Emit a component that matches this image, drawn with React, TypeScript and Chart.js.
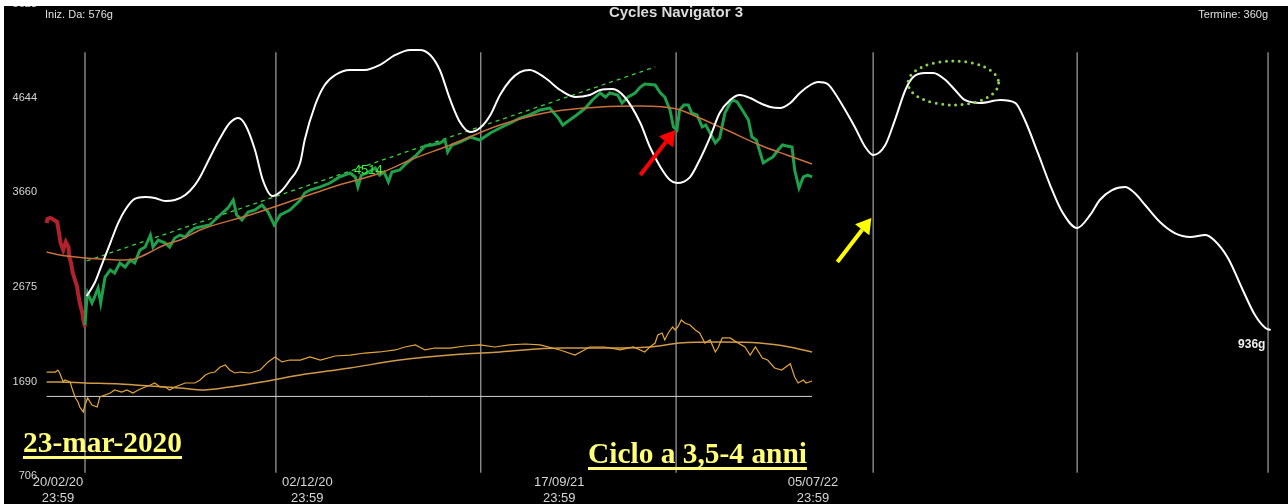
import React, { useEffect, useRef } from 'react';
import { Chart, registerables } from 'chart.js';

Chart.register(...registerables);

// ---- axis ticks ----
const yTickValues = [706, 1690, 2675, 3660, 4644, 5628];
const yTickLabels = ['706', '1690', '2675', '3660', '4644', '5628'];
const dateTickDays = [0, 286, 575, 866];
const dateTickLabels = [
  ['20/02/20', '23:59'],
  ['02/12/20', '23:59'],
  ['17/09/21', '23:59'],
  ['05/07/22', '23:59'],
];
// vertical cycle lines (days since 20/02/20)
const cycleLineDays = [31, 250, 485, 709, 935, 1169, 1388];
const cycleLineRange = [740, 5120];

// ---- projected cycle (white) ----
const cycleDays = [33, 42, 48, 60, 69, 77, 88, 100, 111, 123, 134, 146, 157, 163, 174, 186, 197, 207, 215, 226, 235, 246, 255, 266, 278, 283, 295, 306, 318, 335, 352, 369, 387, 404, 415, 427, 438, 450, 461, 473, 484, 496, 507, 519, 530, 541, 559, 576, 593, 610, 622, 636, 650, 668, 679, 691, 702, 710, 725, 736, 748, 759, 771, 782, 794, 805, 817, 828, 840, 851, 863, 872, 883, 891, 903, 914, 926, 935, 949, 960, 972, 981, 995, 1004, 1018, 1029, 1040, 1058, 1081, 1098, 1109, 1124, 1138, 1152, 1169, 1184, 1195, 1209, 1224, 1235, 1247, 1264, 1281, 1299, 1316, 1326, 1342, 1359, 1373, 1385, 1391];
const cycleValues = [2581, 2716, 2852, 3133, 3341, 3477, 3592, 3612, 3602, 3571, 3581, 3633, 3737, 3821, 4019, 4227, 4383, 4435, 4362, 4102, 3789, 3623, 3664, 3789, 3977, 4206, 4571, 4779, 4883, 4935, 4935, 4987, 5092, 5144, 5144, 5092, 4935, 4623, 4394, 4289, 4331, 4467, 4675, 4831, 4914, 4935, 4852, 4727, 4654, 4675, 4727, 4737, 4654, 4383, 4133, 3925, 3789, 3758, 3820, 3998, 4237, 4487, 4623, 4675, 4644, 4592, 4550, 4539, 4592, 4696, 4779, 4810, 4789, 4696, 4519, 4342, 4133, 4050, 4154, 4414, 4727, 4862, 4904, 4904, 4831, 4727, 4623, 4592, 4623, 4592, 4414, 4071, 3737, 3456, 3289, 3425, 3581, 3685, 3717, 3654, 3529, 3352, 3237, 3196, 3216, 3164, 2977, 2644, 2383, 2248, 2227];

// ---- price before the low (red) ----
const preDays = [-13, -12, -9, -6, -1, 1, 3, 6, 9, 12, 13, 15, 17, 22, 23, 25, 28, 29, 31];
const preValues = [3341, 3383, 3394, 3383, 3352, 3248, 3133, 3060, 3144, 3091, 2987, 2925, 2821, 2675, 2612, 2508, 2404, 2331, 2258];

// ---- price after the low (green) ----
const priceDays = [31, 33, 34, 39, 42, 46, 49, 54, 60, 65, 71, 77, 83, 88, 94, 100, 106, 109, 115, 123, 128, 134, 140, 146, 151, 157, 163, 174, 186, 195, 201, 205, 211, 218, 226, 234, 241, 248, 255, 266, 278, 283, 289, 301, 312, 323, 335, 341, 344, 348, 354, 364, 369, 374, 379, 383, 392, 400, 410, 421, 429, 438, 444, 447, 452, 461, 473, 484, 496, 507, 519, 530, 541, 553, 564, 574, 579, 587, 595, 605, 613, 622, 628, 633, 642, 647, 654, 662, 668, 673, 685, 691, 696, 702, 706, 710, 713, 718, 723, 727, 733, 739, 743, 748, 754, 759, 765, 771, 774, 779, 785, 792, 796, 801, 809, 814, 820, 826, 831, 836, 842, 845, 850, 855, 860, 865];
const priceValues = [2279, 2539, 2612, 2508, 2571, 2664, 2508, 2779, 2852, 2821, 2925, 2883, 2956, 2925, 3060, 3091, 3216, 3091, 3164, 3133, 3091, 3185, 3216, 3196, 3248, 3289, 3300, 3321, 3425, 3498, 3581, 3425, 3373, 3456, 3477, 3529, 3456, 3321, 3425, 3477, 3581, 3654, 3685, 3717, 3758, 3821, 3862, 3821, 3717, 3841, 3862, 3914, 3841, 3873, 3769, 3873, 3894, 3967, 4039, 4144, 4154, 4175, 4206, 4081, 4154, 4185, 4237, 4206, 4279, 4331, 4383, 4435, 4467, 4519, 4539, 4435, 4362, 4414, 4467, 4539, 4623, 4696, 4654, 4696, 4675, 4592, 4654, 4696, 4758, 4789, 4779, 4696, 4654, 4519, 4342, 4310, 4519, 4571, 4571, 4487, 4467, 4342, 4362, 4279, 4175, 4227, 4487, 4592, 4623, 4602, 4519, 4414, 4237, 4206, 3967, 3998, 4029, 4102, 4154, 4144, 4133, 3894, 3706, 3821, 3841, 3821];

// ---- moving average (brown) ----
const maDays = [-13, 2, 31, 48, 71, 88, 94, 106, 117, 128, 140, 163, 220, 278, 315, 373, 404, 450, 507, 564, 622, 668, 710, 736, 767, 805, 836, 865];
const maValues = [3039, 3008, 2977, 2966, 2956, 2966, 2987, 3039, 3091, 3133, 3164, 3269, 3425, 3602, 3717, 3873, 3998, 4154, 4362, 4498, 4550, 4560, 4529, 4435, 4310, 4154, 4050, 3956];

// ---- trend line (dashed green) ----
const trendDays = [33, 685];
const trendValues = [2946, 4967];
const trendLabel = '4514';
const trendLabelAt = [356, 3894];

// ---- lower oscillator (orange) ----
const oscDays = [-13, -3, 0, 2, 6, 8, 14, 16, 20, 23, 25, 29, 31, 34, 39, 45, 48, 54, 60, 65, 73, 79, 86, 92, 100, 106, 111, 117, 123, 128, 134, 140, 146, 157, 163, 169, 174, 180, 186, 192, 197, 203, 209, 220, 232, 241, 249, 257, 266, 278, 289, 301, 318, 335, 352, 369, 387, 398, 410, 421, 432, 450, 467, 484, 501, 518, 536, 553, 576, 593, 610, 627, 645, 660, 673, 679, 685, 688, 693, 696, 700, 705, 708, 711, 715, 719, 725, 731, 736, 742, 748, 754, 757, 762, 771, 780, 788, 794, 800, 808, 814, 822, 830, 840, 845, 849, 855, 858, 865];
const oscValues = [1789, 1789, 1810, 1779, 1685, 1706, 1685, 1623, 1519, 1477, 1425, 1373, 1446, 1519, 1446, 1425, 1529, 1550, 1571, 1602, 1581, 1602, 1571, 1602, 1633, 1654, 1675, 1633, 1633, 1602, 1633, 1654, 1675, 1675, 1706, 1758, 1779, 1789, 1841, 1862, 1810, 1779, 1789, 1779, 1810, 1894, 1946, 1894, 1914, 1914, 1946, 1914, 1956, 1966, 1987, 1998, 2019, 2050, 2071, 2019, 2039, 2039, 2060, 2071, 2050, 2071, 2081, 2071, 2019, 1966, 2050, 2050, 2019, 2050, 1998, 2050, 2091, 2175, 2196, 2123, 2196, 2258, 2227, 2258, 2331, 2300, 2279, 2227, 2196, 2091, 2123, 1998, 2039, 2144, 2144, 2091, 2050, 1966, 2050, 1935, 1914, 1831, 1810, 1875, 1737, 1675, 1706, 1675, 1696];
const oscMaDays = [-13, 2, 31, 71, 106, 140, 163, 197, 220, 278, 335, 392, 450, 507, 576, 622, 679, 713, 759, 805, 839, 865];
const oscMaValues = [1685, 1685, 1675, 1664, 1644, 1623, 1602, 1633, 1664, 1758, 1831, 1914, 1966, 1998, 2039, 2039, 2050, 2091, 2102, 2091, 2050, 1998];
const baselineDays = [-13, 865];
const baselineValue = 1535;

// ---- annotations (data coordinates) ----
const redArrow = [668, 3841, 708, 4310];
const yellowArrow = [894, 2935, 933, 3394];
const ellipseCenter = [1027, 4800];
const ellipseRadius = [52, 229];
const endLabel = '936g';
const endLabelAt = [1385, 2071];

const pts = (xs: number[], ys: number[]) => xs.map((x, i) => ({ x, y: ys[i] }));

function drawArrow(ctx: CanvasRenderingContext2D, x1: number, y1: number, x2: number, y2: number, color: string, w: number, head: number) {
  const ang = Math.atan2(y2 - y1, x2 - x1);
  const bx = x2 - head * Math.cos(ang);
  const by = y2 - head * Math.sin(ang);
  ctx.strokeStyle = color;
  ctx.fillStyle = color;
  ctx.lineWidth = w;
  ctx.lineCap = 'butt';
  ctx.setLineDash([]);
  ctx.beginPath();
  ctx.moveTo(x1, y1);
  ctx.lineTo(bx, by);
  ctx.stroke();
  const hw = head * 0.6;
  ctx.beginPath();
  ctx.moveTo(x2, y2);
  ctx.lineTo(bx + hw * Math.sin(ang), by - hw * Math.cos(ang));
  ctx.lineTo(bx - hw * Math.sin(ang), by + hw * Math.cos(ang));
  ctx.closePath();
  ctx.fill();
}

const SANS = '"Liberation Sans", Arial, sans-serif';
const SERIF = '"Liberation Serif", "Times New Roman", serif';

const overlayPlugin = {
  id: 'overlay',
  afterDatasetsDraw(chart: any) {
    const { ctx, scales } = chart;
    const xs = scales.x;
    const ys = scales.y;
    ctx.save();

    // y tick labels
    ctx.font = '11px ' + SANS;
    ctx.fillStyle = '#d6d6d6';
    ctx.textAlign = 'right';
    ctx.textBaseline = 'middle';
    yTickValues.forEach((v, i) => ctx.fillText(yTickLabels[i], 37, ys.getPixelForValue(v)));

    // date tick labels
    ctx.font = '13px ' + SANS;
    ctx.textAlign = 'center';
    dateTickDays.forEach((d, i) => {
      const px = xs.getPixelForValue(d);
      ctx.fillText(dateTickLabels[i][0], px, 482);
      ctx.fillText(dateTickLabels[i][1], px, 498);
    });

    // header texts
    ctx.font = '11px ' + SANS;
    ctx.textAlign = 'left';
    ctx.fillStyle = '#e0e0e0';
    ctx.fillText('Iniz. Da: 576g', 45, 15);
    ctx.textAlign = 'right';
    ctx.fillText('Termine: 360g', 1268, 15);
    ctx.font = 'bold 15px ' + SANS;
    ctx.textAlign = 'center';
    ctx.fillStyle = '#dcdcdc';
    ctx.fillText('Cycles Navigator 3', 676, 13);

    // trend value label
    ctx.font = '13px ' + SANS;
    ctx.fillStyle = '#3cf03c';
    ctx.textAlign = 'center';
    ctx.fillText(trendLabel, xs.getPixelForValue(trendLabelAt[0]), ys.getPixelForValue(trendLabelAt[1]));

    // end label
    ctx.font = 'bold 12px ' + SANS;
    ctx.fillStyle = '#f0f0f0';
    ctx.textAlign = 'right';
    ctx.fillText(endLabel, xs.getPixelForValue(endLabelAt[0]), ys.getPixelForValue(endLabelAt[1]));

    // arrows
    drawArrow(ctx, xs.getPixelForValue(redArrow[0]), ys.getPixelForValue(redArrow[1]), xs.getPixelForValue(redArrow[2]), ys.getPixelForValue(redArrow[3]), '#ff0000', 4, 15);
    drawArrow(ctx, xs.getPixelForValue(yellowArrow[0]), ys.getPixelForValue(yellowArrow[1]), xs.getPixelForValue(yellowArrow[2]), ys.getPixelForValue(yellowArrow[3]), '#ffff00', 4, 15);

    // dotted ellipse
    const cx = xs.getPixelForValue(ellipseCenter[0]);
    const cy = ys.getPixelForValue(ellipseCenter[1]);
    const rx = Math.abs(xs.getPixelForValue(ellipseCenter[0] + ellipseRadius[0]) - cx);
    const ry = Math.abs(ys.getPixelForValue(ellipseCenter[1] + ellipseRadius[1]) - cy);
    ctx.strokeStyle = '#8fd14f';
    ctx.lineWidth = 3;
    ctx.lineCap = 'round';
    ctx.setLineDash([0, 6.5]);
    ctx.beginPath();
    ctx.ellipse(cx, cy, rx, ry, 0, 0, Math.PI * 2);
    ctx.stroke();
    ctx.setLineDash([]);

    // big yellow notes
    const note = (text: string, x: number, base: number, width: number) => {
      ctx.font = 'bold 30px ' + SERIF;
      ctx.fillStyle = '#ffff78';
      ctx.textAlign = 'left';
      ctx.textBaseline = 'alphabetic';
      const w = ctx.measureText(text).width;
      ctx.save();
      ctx.translate(x, base);
      ctx.scale(width / w, 1);
      ctx.fillText(text, 0, 0);
      ctx.restore();
      ctx.fillRect(x, base + 4, width, 3);
    };
    note('23-mar-2020', 23, 452, 159);
    note('Ciclo a 3,5-4 anni', 588, 463, 219);

    ctx.restore();
  },
};

export default function App() {
  const ref = useRef<HTMLCanvasElement>(null);

  useEffect(() => {
    if (!ref.current) return;
    const vlineData: any[] = [];
    cycleLineDays.forEach((d) => {
      vlineData.push({ x: d, y: cycleLineRange[0] });
      vlineData.push({ x: d, y: cycleLineRange[1] });
      vlineData.push({ x: d, y: null });
    });
    const line = (data: any[], color: string, width: number, extra: any = {}) => ({
      data,
      borderColor: color,
      backgroundColor: color,
      borderWidth: width,
      pointRadius: 0,
      fill: false,
      ...extra,
    });
    const chart = new Chart(ref.current, {
      type: 'line',
      data: {
        datasets: [
          line(pts(cycleDays, cycleValues), '#ffffff', 2, { cubicInterpolationMode: 'monotone' }),
          line(pts(maDays, maValues), '#c8703c', 1.5, { cubicInterpolationMode: 'monotone' }),
          line(pts(priceDays, priceValues), '#1fa04a', 3),
          line(pts(preDays, preValues), '#b0222c', 4),
          line(pts(trendDays, trendValues), '#3ccf3c', 1.3, { borderDash: [4, 4] }),
          line(pts(oscDays, oscValues), '#e3a53a', 1.2),
          line(pts(oscMaDays, oscMaValues), '#d09a48', 1.5, { cubicInterpolationMode: 'monotone' }),
          line(pts(baselineDays, baselineDays.map(() => baselineValue)), '#d4d4d4', 1),
          line(vlineData, '#c4c4c4', 1, { spanGaps: false }),
        ],
      },
      options: {
        animation: false,
        responsive: false,
        maintainAspectRatio: false,
        parsing: { xAxisKey: 'x', yAxisKey: 'y' },
        layout: { padding: 0 },
        scales: {
          x: { type: 'linear', min: -66.5, max: 1410.9, display: false },
          y: { type: 'linear', min: 414.3, max: 5664.5, display: false },
        },
        plugins: { legend: { display: false }, tooltip: { enabled: false } },
        elements: { point: { radius: 0 } },
      },
      plugins: [overlayPlugin],
    } as any);
    return () => chart.destroy();
  }, []);

  return (
    <div style={{ position: 'fixed', left: 0, top: 0, width: 1288, height: 504, background: '#fff', overflow: 'hidden' }}>
      <canvas ref={ref} width={1288} height={504} style={{ position: 'absolute', left: 0, top: 0, width: 1288, height: 504, background: '#000' }} />
      <div style={{ position: 'absolute', left: 0, top: 0, width: 1288, height: 6, background: '#fff' }} />
      <div style={{ position: 'absolute', left: 0, top: 0, width: 4, height: 504, background: '#fff' }} />
    </div>
  );
}
